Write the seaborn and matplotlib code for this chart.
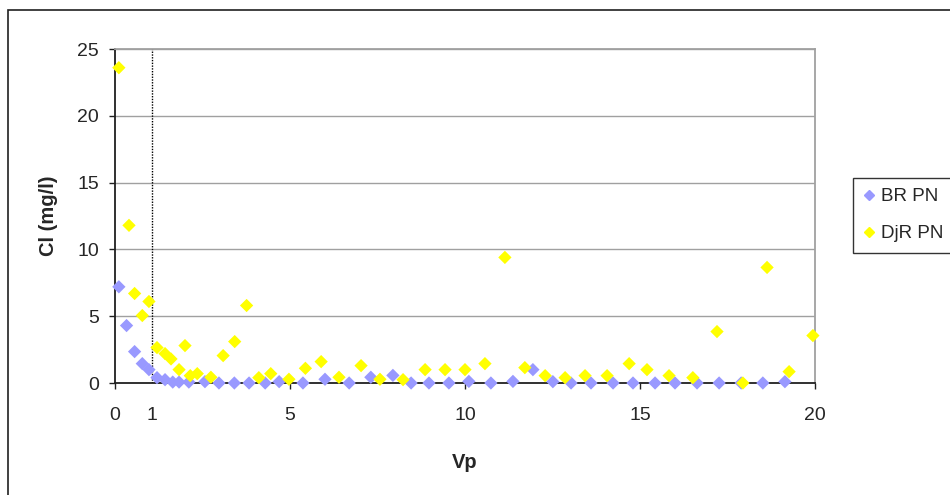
import pandas as pd
import seaborn as sns
import matplotlib.pyplot as plt
from matplotlib.patches import Rectangle

# BR PN series
vp_br = [0.11, 0.33, 0.56, 0.78, 0.97, 1.20, 1.43, 1.65, 1.83, 2.11,
         2.57, 2.97, 3.41, 3.83, 4.29, 4.69, 5.37, 6.00, 6.69, 7.31,
         7.94, 8.46, 8.97, 9.54, 10.11, 10.74, 11.37, 11.94, 12.51, 13.03,
         13.60, 14.23, 14.80, 15.43, 16.00, 16.63, 17.26, 17.89, 18.51, 19.14]
cl_br = [7.2, 4.3, 2.35, 1.45, 1.0, 0.4, 0.25, 0.07, 0.07, 0.07,
         0.1, 0.0, 0.0, 0.0, 0.0, 0.1, 0.0, 0.28, 0.0, 0.43,
         0.57, 0.0, 0.0, 0.0, 0.12, 0.0, 0.12, 1.0, 0.1, 0.0,
         0.0, 0.0, 0.0, 0.0, 0.0, 0.0, 0.0, 0.0, 0.0, 0.1]

# DjR PN series
vp_djr = [0.11, 0.40, 0.56, 0.78, 0.97, 1.20, 1.43, 1.60, 1.83, 2.00,
          2.15, 2.35, 2.74, 3.09, 3.42, 3.76, 4.11, 4.45, 4.97, 5.44,
          5.89, 6.40, 7.03, 7.57, 8.23, 8.86, 9.43, 10.00, 10.57, 11.14,
          11.71, 12.29, 12.86, 13.43, 14.06, 14.69, 15.20, 15.83, 16.51, 17.20,
          17.94, 18.63, 19.26, 19.94]
cl_djr = [23.6, 11.8, 6.7, 5.05, 6.1, 2.65, 2.2, 1.8, 1.0, 2.8,
          0.55, 0.7, 0.43, 2.05, 3.1, 5.8, 0.4, 0.7, 0.28, 1.1,
          1.6, 0.43, 1.3, 0.28, 0.25, 1.0, 1.0, 1.0, 1.45, 9.4,
          1.15, 0.55, 0.4, 0.55, 0.55, 1.45, 1.0, 0.55, 0.4, 3.85,
          0.0, 8.65, 0.85, 3.55]

series_names = ["BR PN", "DjR PN"]
series_colors = ["#9999FF", "#FFFF00"]
vline_x = 1.06
x_ticks = [0, vline_x, 5, 10, 15, 20]
x_tick_labels = ["0", "1", "5", "10", "15", "20"]
y_ticks = [0, 5, 10, 15, 20, 25]

df = pd.concat([
    pd.DataFrame({"Vp": vp_br, "Cl": cl_br, "serie": series_names[0]}),
    pd.DataFrame({"Vp": vp_djr, "Cl": cl_djr, "serie": series_names[1]}),
], ignore_index=True)

sns.set_style("white")
plt.rcParams["font.family"] = ["Liberation Sans", "DejaVu Sans"]

fig = plt.figure(figsize=(9.5, 4.95), dpi=100)
ax = fig.add_axes([115 / 950, 1 - 383 / 495, 700 / 950, 334 / 495])

for y in y_ticks[1:]:
    ax.axhline(y, color="#A0A0A0", lw=1, zorder=0)

ax.axvline(vline_x, color="black", lw=1, ls=(0, (1, 1)), zorder=1)

sns.scatterplot(
    data=df,
    x="Vp",
    y="Cl",
    hue="serie",
    hue_order=series_names,
    palette=series_colors,
    marker="D",
    s=46,
    linewidth=0,
    clip_on=False,
    legend=False,
    ax=ax,
    zorder=3
)

ax.set_xlim(0, 20)
ax.set_ylim(0, 25)
ax.set_xticks(x_ticks)
ax.set_xticklabels(x_tick_labels)
ax.set_yticks(y_ticks)

for side in ["left", "bottom"]:
    ax.spines[side].set_color("#202020")
    ax.spines[side].set_linewidth(1.3)
for side in ["top", "right"]:
    ax.spines[side].set_color("#A0A0A0")
    ax.spines[side].set_linewidth(1.3)

ax.tick_params(axis="y", direction="out", length=4.5, width=1,
               color="#202020", pad=7, labelsize=14, left=True)
ax.tick_params(axis="x", direction="out", length=4, width=1,
               color="#202020", pad=13, labelsize=14, bottom=True)
ax.xaxis.get_major_ticks()[1].tick1line.set_visible(False)

ax.set_xlabel("Vp", fontsize=14.5, fontweight="bold")
ax.set_ylabel("Cl (mg/l)", fontsize=14.5, fontweight="bold")
ax.xaxis.set_label_coords(0.5, -0.21)
ax.yaxis.set_label_coords(-0.082, 0.5)

handles = [
    plt.Line2D([], [], marker="D", ls="", color=c, markersize=5.5, label=n)
    for n, c in zip(series_names, series_colors)
]
leg = fig.legend(
    handles=handles,
    loc="upper left",
    bbox_to_anchor=(853 / 950, 1 - 178 / 495),
    fontsize=13.5,
    frameon=True,
    fancybox=False,
    edgecolor="black",
    handlelength=0.6,
    handletextpad=0.35,
    labelspacing=1.05,
    borderpad=0.55,
    borderaxespad=0
)
leg.get_frame().set_linewidth(1)

fig.patches.append(Rectangle(
    (8 / 950, -0.05), 1.2, 1 - 10 / 495 + 0.05,
    transform=fig.transFigure, fill=False,
    edgecolor="#202020", lw=1.2
))

plt.savefig("out.png", dpi=100)
